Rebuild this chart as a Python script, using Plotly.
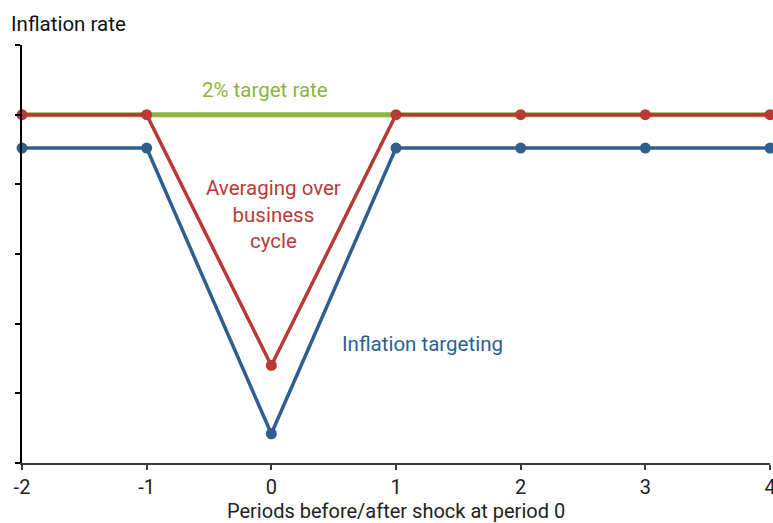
import plotly.graph_objects as go

periods = [-2, -1, 0, 1, 2, 3, 4]
target_rate = [5, 5, 5, 5, 5, 5, 5]
averaging = [5, 5, 1.4, 5, 5, 5, 5]
targeting = [4.52, 4.52, 0.42, 4.52, 4.52, 4.52, 4.52]
y_ticks = [0, 1, 2, 3, 4, 5, 6]
x_ticks = [-2, -1, 0, 1, 2, 3, 4]
x_tick_labels = ["-2", "-1", "0", "1", "2", "3", "4"]

GREEN = "#8db53f"
RED = "#b73a37"
BLUE = "#2e5f8f"
FONT = "Roboto"

fig = go.Figure()
fig.add_trace(go.Scatter(x=periods, y=target_rate, mode="lines",
                         line=dict(color=GREEN, width=5), cliponaxis=False,
                         hoverinfo="skip"))
fig.add_trace(go.Scatter(x=periods, y=targeting, mode="lines+markers",
                         line=dict(color=BLUE, width=3.5), marker=dict(size=11, color=BLUE),
                         cliponaxis=False))
fig.add_trace(go.Scatter(x=periods, y=averaging, mode="lines+markers",
                         line=dict(color=RED, width=3.5), marker=dict(size=11, color=RED),
                         cliponaxis=False))

fig.update_layout(
    width=773, height=523,
    margin=dict(l=22, r=3, t=45, b=60, autoexpand=False),
    paper_bgcolor="white", plot_bgcolor="white",
    showlegend=False,
    font=dict(family=FONT, size=20, color="#222222"),
    xaxis=dict(range=[-2, 4], tickvals=x_ticks, ticktext=x_tick_labels,
               showgrid=False, zeroline=False, automargin=False,
               ticklabeloverflow="allow",
               showline=True, linecolor="#3c3c3c", linewidth=2,
               ticks="outside", ticklen=5, tickcolor="#3c3c3c", tickwidth=1.5,
               tickfont=dict(size=20, color="#222")),
    yaxis=dict(range=[0, 6], tickvals=y_ticks, ticktext=[""] * len(y_ticks),
               showgrid=False, zeroline=False, automargin=False,
               showline=True, linecolor="black", linewidth=1.5,
               ticks="outside", ticklen=5, tickcolor="black", tickwidth=1.5),
    annotations=[
        dict(text="Inflation rate", xref="paper", yref="paper",
             x=-13 / 748, y=1 + 21 / 418, xanchor="left", yanchor="middle",
             showarrow=False, font=dict(size=20.5, color="#111")),
        dict(text="Periods before/after shock at period 0", xref="paper", yref="paper",
             x=0.5, y=-48 / 418, xanchor="center", yanchor="middle",
             showarrow=False, font=dict(size=20, color="#222")),
        dict(text="2% target rate", x=-0.05, y=5.36, xref="x", yref="y",
             showarrow=False, font=dict(size=20.5, color=GREEN)),
        dict(text="Averaging over<br>business<br>cycle", x=0.02, y=3.57, xref="x", yref="y",
             showarrow=False, font=dict(size=20.5, color=RED), align="center"),
        dict(text="Inflation targeting", x=1.215, y=1.71, xref="x", yref="y",
             showarrow=False, font=dict(size=20.5, color=BLUE)),
    ],
)

fig.write_html(
    "out.html",
    config={"displayModeBar": False},
    post_script="document.body.style.margin='0';document.body.style.overflow='hidden';",
)
